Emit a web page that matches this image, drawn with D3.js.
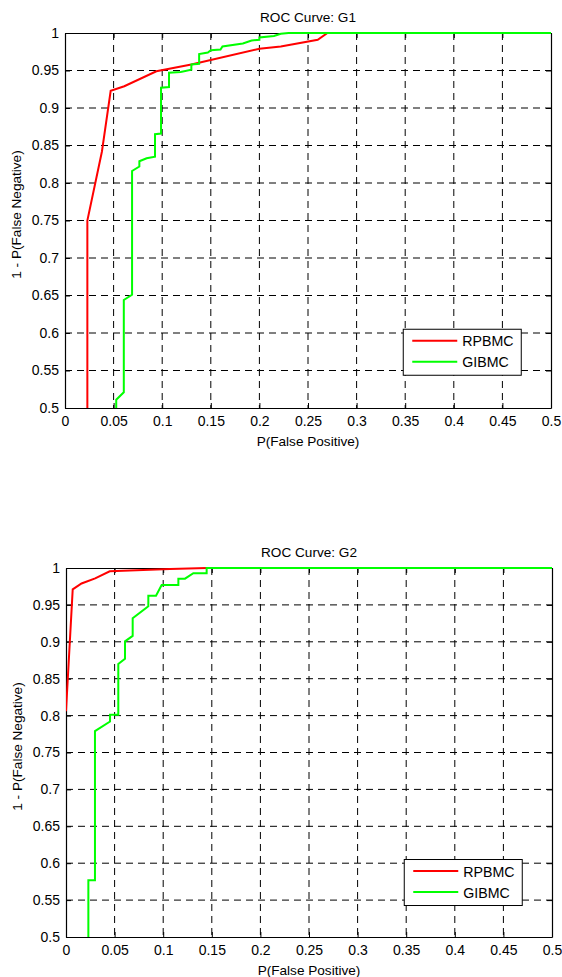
<!DOCTYPE html>
<html><head><meta charset="utf-8">
<script src="https://cdn.jsdelivr.net/npm/d3@7"></script>
<style>body{margin:0;background:#fff}svg{display:block}text{font-family:"Liberation Sans",Arial,sans-serif}</style>
</head><body>
<svg id="c" width="562" height="977"></svg>
<script>
const seriesNames = ["RPBMC", "GIBMC"];
const seriesColors = ["#ff0000", "#00ff00"];
const xTicks = [0,0.05,0.1,0.15,0.2,0.25,0.3,0.35,0.4,0.45,0.5];
const yTicks = [0.5,0.55,0.6,0.65,0.7,0.75,0.8,0.85,0.9,0.95,1];
const titles = ["ROC Curve: G1", "ROC Curve: G2"];

const g1Red = [[0.023,0.5],[0.023,0.75],[0.038,0.842],[0.047,0.923],[0.061,0.929],[0.094,0.949],[0.13,0.958],[0.2,0.979],[0.222,0.982],[0.26,0.991],[0.27,1],[0.5,1]];
const g1Green = [[0.0527,0.5],[0.0527,0.511],[0.0605,0.521],[0.0605,0.644],[0.069,0.651],[0.069,0.816],[0.0765,0.822],[0.0765,0.829],[0.084,0.833],[0.0926,0.835],[0.0926,0.865],[0.0988,0.866],[0.0988,0.927],[0.107,0.928],[0.107,0.947],[0.119,0.948],[0.13,0.951],[0.13,0.958],[0.138,0.959],[0.138,0.972],[0.147,0.974],[0.15,0.977],[0.16,0.978],[0.162,0.982],[0.183,0.986],[0.192,0.99],[0.2,0.991],[0.2,0.994],[0.215,0.996],[0.222,0.999],[0.23,1],[0.5,1]];
const g2Red = [[0,0.806],[0.0069,0.971],[0.016,0.979],[0.030,0.986],[0.045,0.9955],[0.107,0.9986],[0.145,1],[0.5,1]];
const g2Green = [[0.023,0.5],[0.023,0.577],[0.0298,0.577],[0.0298,0.779],[0.0453,0.792],[0.0453,0.801],[0.0538,0.801],[0.0538,0.870],[0.0607,0.877],[0.0607,0.9006],[0.0686,0.908],[0.0686,0.932],[0.0847,0.948],[0.0847,0.9625],[0.0926,0.9625],[0.0984,0.977],[0.1156,0.977],[0.1156,0.9855],[0.1224,0.9855],[0.131,0.993],[0.1447,0.993],[0.1447,1],[0.5,1]];

const panels = [
  {title: titles[0], series: [g1Red, g1Green], box: {l:65, r:551, t:33, b:408}},
  {title: titles[1], series: [g2Red, g2Green], box: {l:66, r:552, t:568, b:937}}
];

const svg = d3.select("#c");
const fmt = d => String(+d.toFixed(2));
const FS = "14px";

panels.forEach(p => {
  const {l, r, t, b} = p.box;
  const x = d3.scaleLinear().domain([0, 0.5]).range([l, r]);
  const y = d3.scaleLinear().domain([0.5, 1]).range([b, t]);
  const g = svg.append("g");

  // grid
  g.append("g").selectAll("line").data(xTicks.slice(1, -1)).join("line")
    .attr("x1", d => x(d)).attr("x2", d => x(d)).attr("y1", t).attr("y2", b)
    .attr("stroke", "#000").attr("stroke-width", 1).attr("stroke-dasharray", "7,5");
  g.append("g").selectAll("line").data(yTicks.slice(1, -1)).join("line")
    .attr("y1", d => y(d)).attr("y2", d => y(d)).attr("x1", l).attr("x2", r)
    .attr("stroke", "#000").attr("stroke-width", 1).attr("stroke-dasharray", "7,5");

  // axes
  const ax = g.append("g").attr("transform", `translate(0,${b})`)
    .call(d3.axisBottom(x).tickValues(xTicks).tickFormat(fmt).tickSizeInner(-5).tickSizeOuter(0).tickPadding(8));
  const axT = g.append("g").attr("transform", `translate(0,${t})`)
    .call(d3.axisTop(x).tickValues(xTicks).tickFormat("").tickSizeInner(-5).tickSizeOuter(0));
  const ay = g.append("g").attr("transform", `translate(${l},0)`)
    .call(d3.axisLeft(y).tickValues(yTicks).tickFormat(fmt).tickSizeInner(-5).tickSizeOuter(0).tickPadding(6));
  const ayR = g.append("g").attr("transform", `translate(${r},0)`)
    .call(d3.axisRight(y).tickValues(yTicks).tickFormat("").tickSizeInner(-5).tickSizeOuter(0));
  [ax, axT, ay, ayR].forEach(a => {
    a.selectAll("path.domain").attr("stroke", "#000").attr("stroke-width", 1.2);
    a.selectAll(".tick line").attr("stroke", "#000");
    a.selectAll("text").attr("fill", "#000").style("font-size", FS)
      .style("font-family", '"Liberation Sans",Arial,sans-serif');
  });

  // lines
  const line = d3.line().x(d => x(d[0])).y(d => y(d[1]));
  const clipId = "clip" + t;
  svg.append("clipPath").attr("id", clipId).append("rect")
    .attr("x", l).attr("y", t - 2).attr("width", r - l + 2).attr("height", b - t + 2);
  p.series.forEach((s, i) => {
    g.append("path").datum(s).attr("d", line).attr("fill", "none")
      .attr("stroke", seriesColors[i]).attr("stroke-width", 2)
      .attr("clip-path", `url(#${clipId})`);
  });

  // title & labels
  g.append("text").attr("x", (l + r) / 2).attr("y", t - 11.5).attr("text-anchor", "middle")
    .style("font-size", "13.6px").text(p.title);
  g.append("text").attr("x", (l + r) / 2).attr("y", b + 38).attr("text-anchor", "middle")
    .style("font-size", "13.6px").text("P(False Positive)");
  g.append("text").attr("transform", `translate(${l - 44},${(t + b) / 2 - 6}) rotate(-90)`)
    .attr("text-anchor", "middle").style("font-size", "13.6px").text("1 - P(False Negative)");

  // legend
  const lx = x(0.348), ly = y(0.605);
  const leg = g.append("g");
  leg.append("rect").attr("x", lx).attr("y", ly).attr("width", 118).attr("height", 46)
    .attr("fill", "#fff").attr("stroke", "#000").attr("stroke-width", 1);
  seriesNames.forEach((n, i) => {
    const yy = ly + 11.6 + i * 21;
    leg.append("line").attr("x1", lx + 9).attr("x2", lx + 54).attr("y1", yy).attr("y2", yy)
      .attr("stroke", seriesColors[i]).attr("stroke-width", 2);
    leg.append("text").attr("x", lx + 59).attr("y", yy + 5.5).style("font-size", "14.2px").text(n);
  });
});
</script>
</body></html>
